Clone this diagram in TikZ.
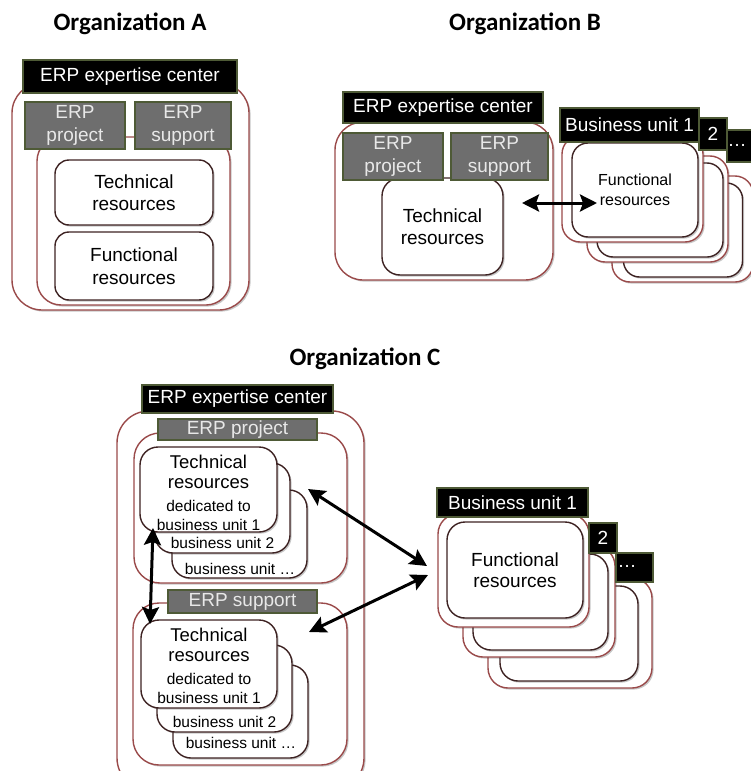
\documentclass[tikz,border=0pt]{standalone}
\usepackage{fontspec}
\setmainfont{Liberation Sans}
\newfontfamily\titlefont{Carlito}
\usetikzlibrary{arrows.meta,shadows}
\definecolor{redline}{HTML}{9A4A4A}
\definecolor{darkline}{HTML}{3E2323}
\definecolor{olive}{HTML}{4E5A36}
\definecolor{grayfill}{HTML}{6E6E6E}
\definecolor{graytext}{HTML}{E8E8E8}
\newcommand\fbig{\fontsize{19}{22.5}\selectfont}
\newcommand\fmid{\fontsize{16}{20}\selectfont}
\newcommand\fsm{\fontsize{15.5}{19}\selectfont}
\newcommand\fttl{\titlefont\bfseries\fontsize{25}{29}\selectfont}
\begin{document}
\begin{tikzpicture}[x=1pt,y=-1pt,
  softshadow/.style={drop shadow={shadow xshift=1.6pt, shadow yshift=-1.6pt, opacity=0.22, fill=black}},
  outerbox/.style={draw=redline, line width=1.4pt, fill=white, rounded corners=#1, inner sep=0pt, softshadow},
  outerbox/.default=28,
  cardbox/.style={draw=darkline, line width=1.4pt, fill=white, rounded corners=#1, inner sep=0pt, softshadow},
  cardbox/.default=16,
  blabel/.style={fill=black, draw=olive, line width=1.6pt, text=white, inner sep=0pt, font=\fbig},
  glabel/.style={fill=grayfill, draw=olive, line width=1.6pt, text=graytext, inner sep=0pt, align=center, font=\fbig},
  ttl/.style={font=\fttl, anchor=base, inner sep=0pt},
  txt/.style={inner sep=0pt, align=center, font=\fbig},
  ctxt/.style={inner sep=0pt, font=\fontsize{18.5}{21}\selectfont},
  stxt/.style={inner sep=0pt, font=\fsm},
  dbl/.style={line width=3pt, >={Stealth[length=17pt,width=17pt,inset=3pt]}, <->}
]
\useasboundingbox (0,0) rectangle (751,771);
\clip (0,0) rectangle (751,771);

% ---------------- Organization A ----------------
\node[ttl] (tA) at (130,30) {Organization A};
\node[outerbox=30, minimum width=237, minimum height=227] (aOut) at (130.5,196.5) {};
\node[outerbox=24, minimum width=193, minimum height=168] (aIn) at (133.5,221) {};
\node[cardbox=14, minimum width=158, minimum height=65, txt] (aTech) at (134,192.5) {Technical\\resources};
\node[cardbox=14, minimum width=158, minimum height=68, txt] (aFunc) at (134,266) {Functional\\resources};
\node[blabel, minimum width=214, minimum height=33] (aCenter) at (130,76.5) {ERP expertise center};
\node[glabel, minimum width=100, minimum height=47] (aProj) at (75,125.5) {ERP\\project};
\node[glabel, minimum width=96, minimum height=47] (aSupp) at (183,125.5) {ERP\\support};

% ---------------- Organization B ----------------
\node[ttl] (tB) at (525,30) {Organization B};
\node[outerbox=28, minimum width=218, minimum height=158] (bOut) at (444,201) {};
\node[cardbox=18, minimum width=121, minimum height=97, txt] (bTech) at (442.5,226.5) {Technical\\resources};
\node[blabel, minimum width=200, minimum height=31] (bCenter) at (443,107.5) {ERP expertise center};
\node[glabel, minimum width=100, minimum height=47] (bProj) at (393,156.5) {ERP\\project};
\node[glabel, minimum width=97, minimum height=47] (bSupp) at (499.5,156.5) {ERP\\support};

% business units (back to front)
\node[outerbox=18, minimum width=141, minimum height=106] (bU3o) at (682.5,229) {};
\node[cardbox=16, minimum width=119, minimum height=94] (bU3i) at (683,230) {};
\node[outerbox=18, minimum width=141, minimum height=106] (bU2o) at (657.5,209) {};
\node[cardbox=16, minimum width=126, minimum height=94] (bU2i) at (660,210) {};
\node[outerbox=18, minimum width=141, minimum height=106] (bU1o) at (632.5,189) {};
\node[cardbox=16, minimum width=126, minimum height=94, txt, font=\fmid] (bU1i) at (635,190) {Functional\\resources};
\node[blabel, minimum width=139, minimum height=34] (bL1) at (629.5,125) {Business unit 1};
\node[blabel, minimum width=28, minimum height=32] (bL2) at (713,134) {2};
\node[blabel, minimum width=43, minimum height=32] (bL3) at (748.5,146) {};
\node[inner sep=0pt, text=white, font=\fbig] (bL3t) at (737,145) {\dots};

\coordinate (bA) at (522,203);
\coordinate (bB) at (597,203);
\draw[dbl] (bA) -- (bB);

% ---------------- Organization C ----------------
\node[ttl] (tC) at (365,365) {Organization C};
\node[outerbox=32, minimum width=247, minimum height=379] (cOut) at (240.5,600.5) {};

% project container
\node[outerbox=26, minimum width=213, minimum height=150] (cPBox) at (240.5,508) {};
\node[cardbox=18, minimum width=135, minimum height=88] (pc3) at (239.5,534) {};
\node[cardbox=18, minimum width=135, minimum height=90] (pc2) at (222.5,508) {};
\node[cardbox=18, minimum width=137, minimum height=85] (pc1) at (208.5,489.5) {};
\node[ctxt] (pc1a) at (208.5,462) {Technical};
\node[ctxt] (pc1b) at (208.5,484) {resources};
\node[stxt] (pc1c) at (208.5,506) {dedicated to};
\node[stxt] (pc1d) at (208.5,525) {business unit 1};
\node[stxt] (pc2a) at (222.5,543) {business unit 2};
\node[stxt] (pc3a) at (240,569) {business unit \dots};

% support container
\node[outerbox=26, minimum width=214, minimum height=162] (cSBox) at (240,684) {};
\node[cardbox=18, minimum width=135, minimum height=93] (sc3) at (240.5,711.5) {};
\node[cardbox=18, minimum width=135, minimum height=87] (sc2) at (224.5,688.5) {};
\node[cardbox=18, minimum width=136, minimum height=88] (sc1) at (209,664) {};
\node[ctxt] (sc1a) at (209,635) {Technical};
\node[ctxt] (sc1b) at (209,657) {resources};
\node[stxt] (sc1c) at (209,679) {dedicated to};
\node[stxt] (sc1d) at (209,698) {business unit 1};
\node[stxt] (sc2a) at (224.5,722) {business unit 2};
\node[stxt] (sc3a) at (241,743) {business unit \dots};

\node[blabel, minimum width=191, minimum height=28] (cCenter) at (237.5,399) {ERP expertise center};
\node[glabel, minimum width=159, minimum height=21] (cProj) at (237.5,429.5) {ERP project};
\node[glabel, minimum width=149, minimum height=23] (cSupp) at (242.5,601.5) {ERP support};

% business units
\node[outerbox=20, minimum width=164, minimum height=110] (cU3o) at (570,633) {};
\node[cardbox=18, minimum width=138, minimum height=95] (cU3i) at (569,633.5) {};
\node[outerbox=20, minimum width=152, minimum height=111] (cU2o) at (539,601.5) {};
\node[cardbox=18, minimum width=135, minimum height=96] (cU2i) at (540.5,602) {};
\node[outerbox=20, minimum width=151, minimum height=113] (cU1o) at (513.5,570.5) {};
\node[cardbox=18, minimum width=136, minimum height=96, txt, font=\fontsize{19}{21}\selectfont] (cU1i) at (515,570) {Functional\\resources};
\node[blabel, minimum width=151, minimum height=29] (cL1) at (512.5,502.5) {Business unit 1};
\node[blabel, minimum width=28, minimum height=30] (cL2) at (603,538) {2};
\node[blabel, minimum width=37, minimum height=29] (cL3) at (634.5,567.5) {};
\node[inner sep=0pt, text=white, font=\fbig] (cL3t) at (627,566) {\dots};

\coordinate (c1a) at (153,528);
\coordinate (c1b) at (150,624);
\coordinate (c2a) at (308,489);
\coordinate (c2b) at (427,566);
\coordinate (c3a) at (309,632);
\coordinate (c3b) at (428,575);
\draw[dbl] (c1a) -- (c1b);
\draw[dbl] (c2a) -- (c2b);
\draw[dbl] (c3a) -- (c3b);
\end{tikzpicture}
\end{document}
